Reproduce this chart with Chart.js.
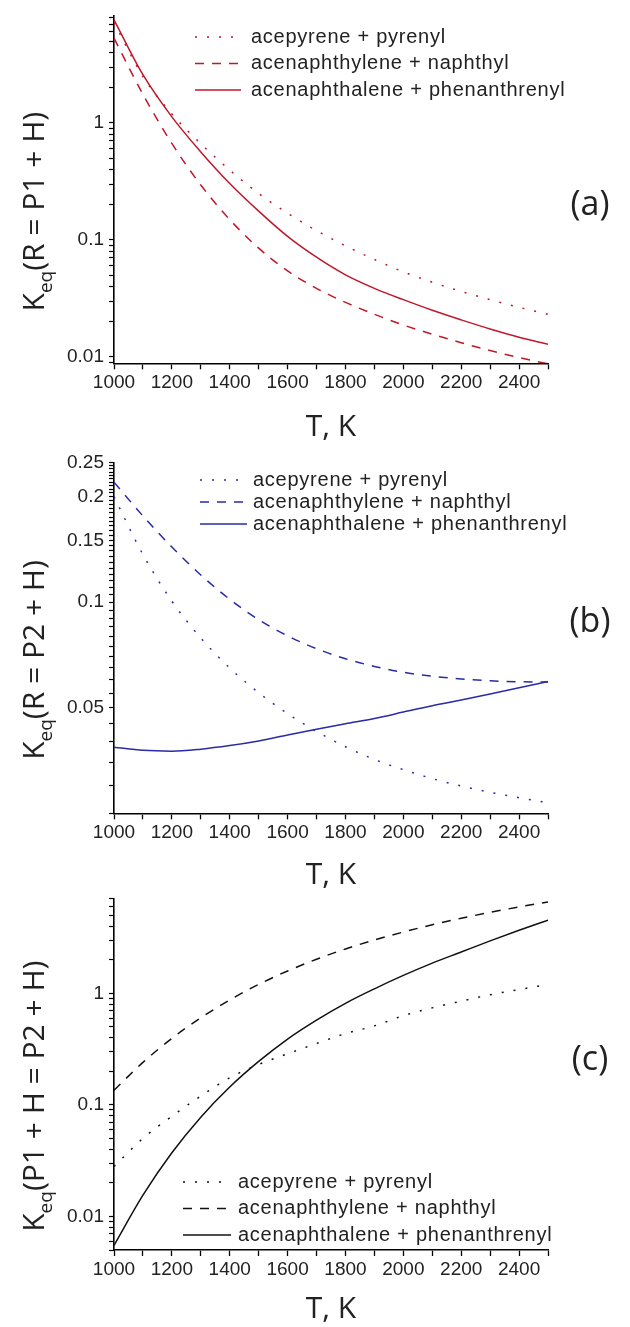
<!DOCTYPE html>
<html>
<head>
<meta charset="utf-8">
<script src="https://cdn.jsdelivr.net/npm/chart.js@4/dist/chart.umd.min.js"></script>
<style>
body { margin: 0; background: #fff; }
canvas { display: block; }
</style>
</head>
<body>
<canvas id="panel_a" width="630" height="445"></canvas>
<canvas id="panel_b" width="630" height="448"></canvas>
<canvas id="panel_c" width="630" height="434"></canvas>
<script>
// temperatures, K
const temps = [1000, 1100, 1200, 1300, 1400, 1500, 1600, 1700, 1800, 1900, 2000, 2100, 2200, 2300, 2400, 2500];
const seriesNames = ['acepyrene + pyrenyl', 'acenaphthylene + naphthyl', 'acenaphthalene + phenanthrenyl'];

// (a) Keq(R = P1 + H)
const keqA_pyrenyl = [7.2, 2.49, 1.19, 0.664, 0.395, 0.249, 0.169, 0.12, 0.0889, 0.0679, 0.0533, 0.0434, 0.0362, 0.0308, 0.0265, 0.0231];
const keqA_naphthyl = [5.3, 1.754, 0.667, 0.294, 0.149, 0.0849, 0.0542, 0.0385, 0.0292, 0.0231, 0.0187, 0.0156, 0.0132, 0.0113, 0.00986, 0.0087];
const keqA_phenanthrenyl = [7.6, 2.58, 1.125, 0.564, 0.303, 0.176, 0.107, 0.071, 0.0502, 0.0385, 0.0308, 0.025, 0.0207, 0.0173, 0.0147, 0.0128];

// (b) Keq(R = P2 + H)
const keqB_pyrenyl = [0.2, 0.1368, 0.1007, 0.0791, 0.0649, 0.0552, 0.0481, 0.0428, 0.0387, 0.0356, 0.0333, 0.0314, 0.0299, 0.0287, 0.0277, 0.0268];
const keqB_naphthyl = [0.22, 0.1762, 0.1437, 0.1196, 0.1019, 0.0892, 0.0802, 0.0737, 0.069, 0.0656, 0.0631, 0.0615, 0.0604, 0.0597, 0.0593, 0.0592];
const keqB_phenanthrenyl = [0.0386, 0.0378, 0.0376, 0.0381, 0.039, 0.0402, 0.0418, 0.0434, 0.045, 0.0466, 0.0486, 0.0507, 0.0526, 0.0547, 0.057, 0.0594];

// (c) Keq(P1 + H = P2 + H)
const keqC_pyrenyl = [0.028, 0.05, 0.079, 0.12, 0.175, 0.23, 0.287, 0.355, 0.435, 0.51, 0.63, 0.74, 0.85, 0.97, 1.08, 1.2];
const keqC_naphthyl = [0.135, 0.24, 0.394, 0.603, 0.871, 1.202, 1.585, 2.018, 2.495, 3.0, 3.54, 4.11, 4.7, 5.31, 5.94, 6.59];
const keqC_phenanthrenyl = [0.0055, 0.0155, 0.0372, 0.0776, 0.1445, 0.245, 0.389, 0.575, 0.813, 1.096, 1.445, 1.862, 2.344, 2.95, 3.67, 4.52];

// ticks
const xTicks = [1000, 1100, 1200, 1300, 1400, 1500, 1600, 1700, 1800, 1900, 2000, 2100, 2200, 2300, 2400, 2500];
const xTickLabels = [1000, 1200, 1400, 1600, 1800, 2000, 2200, 2400];

const yTicksA = [0.009, 0.01, 0.02, 0.03, 0.04, 0.05, 0.06, 0.07, 0.08, 0.09,
	0.1, 0.2, 0.3, 0.4, 0.5, 0.6, 0.7, 0.8, 0.9, 1, 2, 3, 4, 5, 6, 7, 8];
const yLabelsA = [0.01, 0.1, 1];

const yTicksB = [0.025, 0.03, 0.035, 0.04, 0.045, 0.05, 0.055, 0.06, 0.065, 0.07, 0.075, 0.08, 0.085, 0.09, 0.095,
	0.1, 0.105, 0.11, 0.115, 0.12, 0.125, 0.13, 0.135, 0.14, 0.145, 0.15, 0.155, 0.16, 0.165, 0.17, 0.175,
	0.18, 0.185, 0.19, 0.195, 0.2, 0.205, 0.21, 0.215, 0.22, 0.225, 0.23, 0.235, 0.24, 0.245, 0.25];
const yLabelsB = [0.05, 0.1, 0.15, 0.2, 0.25];

const yTicksC = [0.005, 0.006, 0.007, 0.008, 0.009, 0.01, 0.02, 0.03, 0.04, 0.05, 0.06, 0.07, 0.08, 0.09,
	0.1, 0.2, 0.3, 0.4, 0.5, 0.6, 0.7, 0.8, 0.9, 1, 2, 3, 4, 5, 6, 7];
const yLabelsC = [0.01, 0.1, 1];

const tickFont = { family: "'Liberation Sans', Arial, sans-serif", size: 19 };
const titleFamily = "'Open Sans', 'Noto Sans', sans-serif";
const inkColour = '#222';

// legend, y title with subscript, and panel letter, drawn over the chart
const panelDecor = {
	id: 'panelDecor',
	afterDraw(chart, args, opts) {
		const ctx = chart.ctx;
		const area = chart.chartArea;
		ctx.save();

		const lg = opts.legend;
		ctx.font = '20px ' + tickFont.family;
		ctx.letterSpacing = '0.75px';
		ctx.textBaseline = 'middle';
		ctx.textAlign = 'left';
		chart.data.datasets.forEach((ds, i) => {
			const y = lg.top + i * lg.row;
			ctx.beginPath();
			ctx.setLineDash(ds.borderDash || []);
			ctx.strokeStyle = ds.borderColor;
			ctx.lineWidth = ds.borderWidth;
			ctx.moveTo(lg.x0, y);
			ctx.lineTo(lg.x1, y);
			ctx.stroke();
			ctx.setLineDash([]);
			ctx.fillStyle = inkColour;
			ctx.fillText(ds.label, lg.textX, y);
		});
		ctx.letterSpacing = '0px';

		// rotated y title: K, subscript eq, rest
		const big = '30px ' + titleFamily;
		const small = '19px ' + titleFamily;
		ctx.font = big;
		const wK = ctx.measureText('K').width;
		const wRest = ctx.measureText(opts.yTitle).width;
		ctx.font = small;
		const wSub = ctx.measureText('eq').width;
		const total = wK + wSub + wRest;
		ctx.translate(44, (area.top + area.bottom) / 2 + 22);
		ctx.rotate(-Math.PI / 2);
		ctx.textBaseline = 'alphabetic';
		ctx.fillStyle = inkColour;
		let pos = -total / 2;
		ctx.font = big;
		ctx.fillText('K', pos, 0);
		pos += wK;
		ctx.font = small;
		ctx.fillText('eq', pos, 8);
		pos += wSub;
		ctx.font = big;
		ctx.fillText(opts.yTitle, pos, 0);
		ctx.setTransform(1, 0, 0, 1, 0, 0);

		ctx.font = '34px ' + titleFamily;
		ctx.textAlign = 'center';
		ctx.textBaseline = 'middle';
		ctx.fillText(opts.letter, 590, opts.letterY);
		ctx.restore();
	}
};

function drawPanel(id, cfg) {
	const canvas = document.getElementById(id);
	const H = canvas.height;
	const styles = [
		{ dash: [2, 10] },
		{ dash: [9, 8] },
		{ dash: [] }
	];
	const sets = [cfg.pyrenyl, cfg.naphthyl, cfg.phenanthrenyl].map((vals, i) => ({
		label: seriesNames[i],
		data: temps.map((t, k) => ({ x: t, y: vals[k] })),
		borderColor: cfg.colour,
		borderWidth: 1.5,
		borderDash: styles[i].dash,
		pointRadius: 0,
		fill: false,
		cubicInterpolationMode: 'monotone'
	}));

	new Chart(canvas, {
		type: 'line',
		data: { datasets: sets },
		plugins: [panelDecor],
		options: {
			responsive: false,
			animation: false,
			events: [],
			layout: { autoPadding: false, padding: { top: cfg.top, right: 82, left: 0, bottom: 0 } },
			plugins: {
				legend: { display: false },
				tooltip: { enabled: false },
				panelDecor: {
					legend: cfg.legend,
					yTitle: cfg.yTitle,
					letter: cfg.letter,
					letterY: cfg.letterY
				}
			},
			scales: {
				x: {
					type: 'linear',
					min: 1000,
					max: 2500,
					afterBuildTicks: (scale) => { scale.ticks = xTicks.map(v => ({ value: v })); },
					afterFit: (scale) => {
						scale.height = H - cfg.bottom;
						scale.paddingLeft = 0;
						scale.paddingRight = 0;
					},
					grid: { drawOnChartArea: false, drawTicks: true, tickLength: 6, color: '#000', tickWidth: 1.3 },
					border: { display: true, color: '#000', width: 1.6 },
					ticks: {
						autoSkip: false,
						maxRotation: 0,
						padding: 2,
						color: inkColour,
						font: tickFont,
						callback: (v) => xTickLabels.includes(v) ? String(v) : ''
					},
					title: {
						display: true,
						text: 'T, K',
						color: inkColour,
						padding: 0,
						font: { family: titleFamily, size: 30, lineHeight: 1.2 }
					}
				},
				y: {
					type: 'logarithmic',
					min: cfg.yMin,
					max: cfg.yMax,
					afterBuildTicks: (scale) => { scale.ticks = cfg.yTicks.map(v => ({ value: v })); },
					afterFit: (scale) => {
						scale.width = 114;
						scale.paddingTop = 0;
						scale.paddingBottom = 0;
					},
					grid: { drawOnChartArea: false, drawTicks: true, tickLength: 5, color: '#000', tickWidth: 1.2 },
					border: { display: true, color: '#000', width: 1.6 },
					ticks: {
						autoSkip: false,
						padding: 5,
						color: inkColour,
						font: tickFont,
						callback: (v) => {
							const hit = cfg.yLabels.find(l => Math.abs(l - v) < 1e-9);
							return hit === undefined ? '' : String(hit);
						}
					}
				}
			}
		}
	});
}

drawPanel('panel_a', {
	pyrenyl: keqA_pyrenyl, naphthyl: keqA_naphthyl, phenanthrenyl: keqA_phenanthrenyl,
	colour: '#c0182a',
	top: 16, bottom: 363.3,
	yMin: 0.0088, yMax: 8.2, yTicks: yTicksA, yLabels: yLabelsA,
	yTitle: '(R = P1 + H)', letter: '(a)', letterY: 205,
	legend: { x0: 195, x1: 241, textX: 251, top: 37, row: 26.5 }
});

drawPanel('panel_b', {
	pyrenyl: keqB_pyrenyl, naphthyl: keqB_naphthyl, phenanthrenyl: keqB_phenanthrenyl,
	colour: '#2a2aa8',
	top: 17.7, bottom: 368.3,
	yMin: 0.025, yMax: 0.25, yTicks: yTicksB, yLabels: yLabelsB,
	yTitle: '(R = P2 + H)', letter: '(b)', letterY: 177,
	legend: { x0: 200, x1: 247, textX: 253, top: 35, row: 22 }
});

drawPanel('panel_c', {
	pyrenyl: keqC_pyrenyl, naphthyl: keqC_naphthyl, phenanthrenyl: keqC_phenanthrenyl,
	colour: '#111111',
	top: 5.3, bottom: 357,
	yMin: 0.005, yMax: 7.1, yTicks: yTicksC, yLabels: yLabelsC,
	yTitle: '(P1 + H = P2 + H)', letter: '(c)', letterY: 167,
	legend: { x0: 183, x1: 231, textX: 238, top: 289, row: 26.5 }
});
</script>
</body>
</html>
